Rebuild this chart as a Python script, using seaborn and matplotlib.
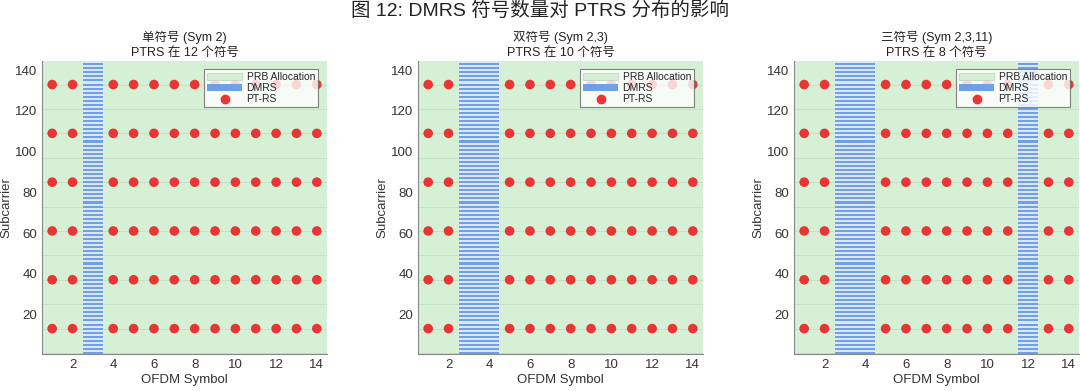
import numpy as np
import pandas as pd
import matplotlib
matplotlib.use("Agg")
import matplotlib.pyplot as plt
import seaborn as sns
from matplotlib.patches import Patch
from matplotlib.lines import Line2D

sns.set_style("white")
plt.rcParams['font.family'] = ['Liberation Sans', 'Noto Sans CJK SC', 'DejaVu Sans']

# ---- data ----
suptitle = "图 12: DMRS 符号数量对 PTRS 分布的影响"
titles = ["单符号 (Sym 2)\nPTRS 在 12 个符号",
          "双符号 (Sym 2,3)\nPTRS 在 10 个符号",
          "三符号 (Sym 2,3,11)\nPTRS 在 8 个符号"]
dmrs_symbols = [[3], [3, 4], [3, 4, 12]]
ptrs_symbols = [
    [1, 2, 4, 5, 6, 7, 8, 9, 10, 11, 12, 13, 14],
    [1, 2, 5, 6, 7, 8, 9, 10, 11, 12, 13, 14],
    [1, 2, 5, 6, 7, 8, 9, 10, 11, 13, 14],
]
ptrs_subcarriers = [13, 37, 61, 85, 109, 133]
dmrs_subcarriers = list(range(1, 145, 2))
n_subcarriers = 144
n_symbols = 14
prb_size = 12
xticks = [2, 4, 6, 8, 10, 12, 14]
yticks = [20, 40, 60, 80, 100, 120, 140]

green = "#d6f0d6"
grid_c = "#c6e0c9"
blue = "#6f9fe6"
red = "#e83535"

fig = plt.figure(figsize=(10.8, 3.91), dpi=100)
lefts = [42, 418, 794]
for i in range(3):
    ax = fig.add_axes([lefts[i] / 1080, 0.0946, 285 / 1080, 0.749])
    ax.set_xlim(0.5, n_symbols + 0.5)
    ax.set_ylim(0.5, n_subcarriers + 0.5)
    # PRB allocation
    ax.add_patch(plt.Rectangle((0.5, 0.5), n_symbols, n_subcarriers, facecolor=green,
                               edgecolor="none", zorder=0))
    for k in range(0, n_subcarriers // prb_size + 1):
        ax.axhline(k * prb_size + 1, color=grid_c, lw=0.7, zorder=1)
    # DMRS
    for s in dmrs_symbols[i]:
        ax.add_patch(plt.Rectangle((s - 0.5, 0.5), 1, n_subcarriers, facecolor="#dbe7f7",
                                   edgecolor="none", zorder=2))
        ax.barh(dmrs_subcarriers, [1] * len(dmrs_subcarriers), left=s - 0.5, height=1.0,
                color=blue, edgecolor="none", linewidth=0, zorder=3)
    # PTRS
    df = pd.DataFrame([(x, y) for y in ptrs_subcarriers for x in ptrs_symbols[i]],
                      columns=["sym", "sc"])
    sns.scatterplot(data=df, x="sym", y="sc", ax=ax, color=red, s=48, edgecolor="none",
                    zorder=4, legend=False)
    ax.set_xticks(xticks)
    ax.set_yticks(yticks)
    ax.tick_params(axis="both", labelsize=9.5, colors="#333333", length=2, direction="in")
    for sp in ["top", "right"]:
        ax.spines[sp].set_visible(False)
    for sp in ["left", "bottom"]:
        ax.spines[sp].set_color("#888888")
        ax.spines[sp].set_linewidth(0.8)
    ax.set_xlabel("OFDM Symbol", fontsize=9.5, color="#333333", labelpad=2)
    ax.set_ylabel("Subcarrier", fontsize=9.5, color="#333333", labelpad=2)
    ax.set_title(titles[i], fontsize=9, color="#222222", pad=4, linespacing=1.25)
    handles = [Patch(facecolor=green, edgecolor="#b8d0b8", lw=0.5),
               Patch(facecolor=blue, edgecolor="none"),
               Line2D([], [], ls="none", marker="o", color=red, markersize=6)]
    leg = ax.legend(handles, ["PRB Allocation", "DMRS", "PT-RS"], loc="upper right",
                    fontsize=7.5, frameon=True, fancybox=False, borderpad=0.25,
                    labelspacing=0.12, handlelength=3.4, handletextpad=0.4,
                    bbox_to_anchor=(0.985, 0.99))
    leg.get_frame().set_edgecolor("#666666")
    leg.get_frame().set_linewidth(0.8)

fig.suptitle(suptitle, fontsize=14, y=0.995, color="#222222")
fig.savefig("out.png", dpi=100)
